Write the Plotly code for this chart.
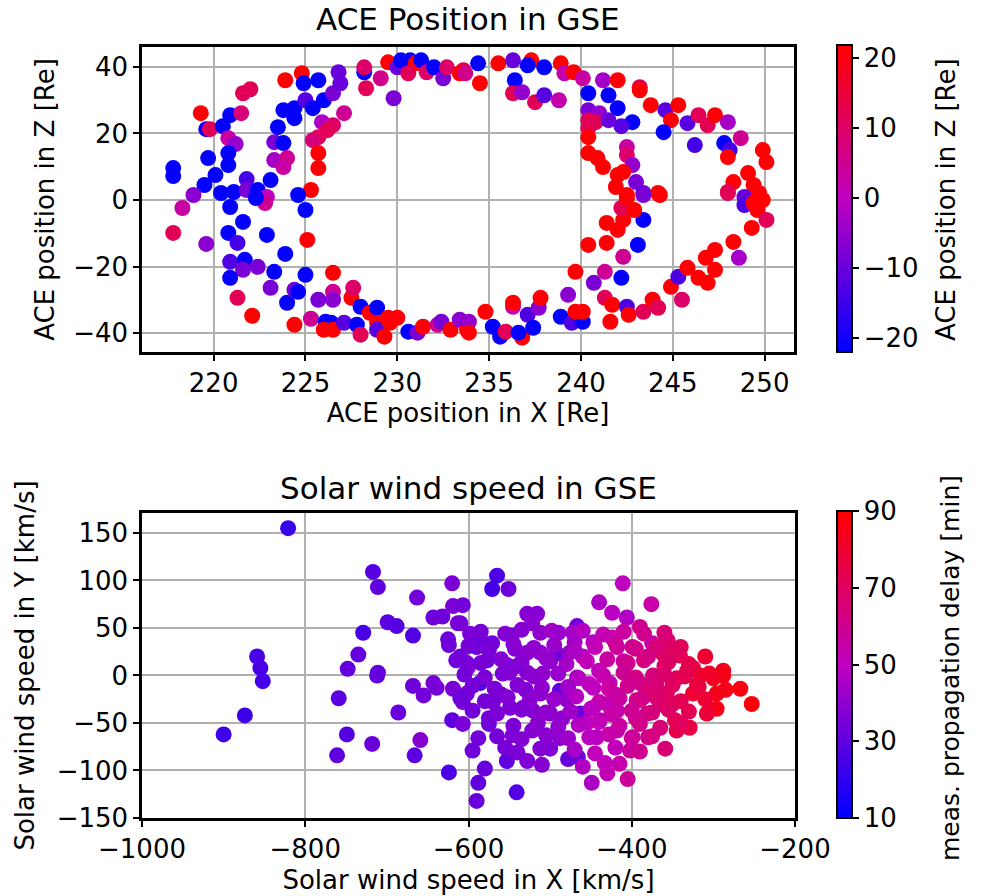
import plotly.graph_objects as go

# ---------------- Data: ACE position (top panel) ----------------
ace_x = [219.6, 219.3, 219.8, 220.9, 220.5, 221.5, 221.6, 222.0, 220.8, 221.2, 220.8, 219.7, 220.8, 217.8, 217.8,
         220.1, 219.5, 218.9, 220.4, 221.1, 221.8, 221.8, 222.4, 223.1, 222.9, 223.3, 223.8, 223.3, 224.0, 223.8,
         223.5, 223.8, 224.4, 224.4, 223.9, 224.8, 224.9, 225.7, 225.0, 226.0, 225.4, 225.9, 226.5, 227.1, 225.7,
         226.2, 225.4, 225.7, 225.7, 225.3, 224.6, 226.5, 226.9, 226.8, 228.3, 228.2, 228.2, 229.1, 229.8, 229.5,
         230.0, 230.2, 230.7, 231.0, 230.6, 231.3, 231.6, 232.0, 232.5, 232.7, 233.6, 233.4,
         233.7, 234.4, 234.5, 235.5, 236.3, 236.4, 236.3, 236.8, 237.3, 237.1, 238.0, 237.5, 238.0, 238.8, 238.9,
         239.1, 239.6, 240.1, 240.4, 241.2, 242.0, 241.5, 242.0, 240.4, 241.0, 240.4, 240.8, 241.5, 242.8, 242.2,
         243.2, 243.2, 243.8, 244.6, 245.3, 244.9, 244.5, 245.8, 246.4, 246.9, 247.3, 248.0, 248.7, 246.2, 247.8,
         248.1, 248.0, 249.9, 250.1, 249.1, 248.3, 249.4, 248.0, 249.7, 248.9, 240.4, 240.4, 240.4, 240.9, 241.2,
         242.5, 242.5, 242.8, 242.3, 242.0, 243.0, 241.9, 243.4, 244.2, 242.5,
         218.3, 217.8, 219.6, 220.9, 221.6, 220.8, 221.3, 220.9, 221.7, 221.6, 222.4, 220.9, 221.3, 222.1, 222.9,
         222.8, 222.3, 223.9, 223.3, 223.1, 224.0, 224.4, 224.6, 224.4, 225.1, 225.0, 225.0, 225.3, 225.7, 226.5,
         226.5, 226.5, 226.1, 226.4, 226.0, 226.5, 227.1, 227.5, 227.6, 228.0, 227.8, 228.0, 228.5, 228.9, 228.9,
         228.9, 229.5, 229.3, 229.6, 230.0, 230.6, 231.1, 231.4, 232.2, 232.4, 232.9, 233.4, 233.8,
         233.9, 233.9, 234.8, 235.2, 235.6, 235.9, 236.3, 236.3, 236.8, 236.6, 237.1, 237.4, 237.7, 237.8, 238.9,
         239.3, 239.5, 240.1, 239.7, 240.1, 239.7, 240.4, 241.4, 241.4, 240.7, 241.3, 241.3, 241.7, 241.6, 242.2,
         242.3, 242.5, 242.6, 243.1, 243.4, 243.4, 242.0, 242.3, 242.2, 242.5, 242.9, 243.4, 243.9, 244.2, 244.3,
         244.9, 245.3, 245.5, 245.8, 246.4, 246.9, 247.3, 246.8, 247.3, 248.3, 248.6, 249.3, 249.6, 250.1, 248.9,
         249.4, 249.9, 248.0]
ace_z = [21.3, 26.1, 21.3, 25.5, 22.2, 26.1, 32.1, 33.3, 18.6, 16.8, 14.1, 12.6, 10.5, 9.6, 7.2,
         7.5, 4.5, 1.5, 2.1, 2.4, 6.3, 3.0, 3.0, 6.0, 0.9, 17.4, 17.1, 12.0, 12.6, 9.9,
         21.9, 27.0, 27.6, 24.6, 36.0, 38.1, 35.1, 36.0, 30.0, 30.0, 27.6, 23.4, 22.5, 26.1, 18.9,
         21.0, 18.0, 14.1, 9.6, 3.0, 1.5, 32.1, 35.1, 38.4, 33.6, 38.4, 39.9, 36.6, 30.6, 41.4,
         39.9, 42.0, 42.0, 41.1, 38.1, 42.0, 38.4, 39.9, 36.6, 39.9, 39.0, 38.1,
         38.1, 41.1, 35.1, 41.1, 42.0, 36.0, 32.1, 32.4, 42.0, 40.5, 39.9, 29.4, 31.5, 30.0, 41.1,
         38.1, 38.4, 36.6, 32.1, 36.0, 36.0, 31.5, 27.6, 27.0, 26.1, 24.0, 23.4, 24.0, 23.4, 22.2,
         33.9, 33.0, 28.5, 27.0, 28.5, 24.0, 20.4, 23.1, 25.5, 22.5, 25.5, 23.4, 18.6, 16.5, 17.1,
         15.0, 12.9, 15.0, 11.4, 8.1, 5.4, 4.5, 2.4, 2.1, 0.9, 21.6, 18.9, 14.1, 12.6, 9.9,
         15.9, 13.5, 10.5, 8.4, 7.5, 5.4, 3.9, 2.1, 2.1, 1.5,
         -2.4, -9.9, -13.2, -2.1, -6.6, -9.9, -12.9, -18.6, -18.0, -21.0, -20.1, -23.4, -29.4, -34.8, -10.5,
         -0.9, 0.6, -16.2, -21.6, -26.4, -30.9, -27.0, -27.6, -37.5, -12.0, -22.5, -3.0, -35.7, -30.0, -21.9,
         -27.6, -30.0, -36.6, -36.9, -39.0, -39.0, -36.9, -29.4, -26.4, -32.1, -37.5, -40.5, -33.9, -32.4, -36.9,
         -39.0, -35.4, -41.1, -36.9, -35.4, -39.6, -39.9, -38.1, -37.5, -36.6, -39.0, -36.0, -39.0,
         -36.6, -39.9, -33.6, -38.1, -41.1, -39.6, -32.1, -30.9, -41.4, -39.9, -34.5, -38.4, -32.4, -29.4, -35.1,
         -28.5, -36.9, -36.6, -33.6, -33.6, -21.6, -13.5, -12.9, -6.9, -24.9, -21.6, -29.4, -31.5, -36.6, -23.4,
         -17.1, -32.1, -34.5, -13.5, -33.6, -6.0, -9.0, -6.0, -2.4, 0.6, -3.0, 1.5, -30.0, -32.4, 1.5,
         -26.1, -23.1, -30.0, -20.4, -23.4, -24.9, -21.0, -17.4, -15.0, -12.6, -17.4, -8.4, -3.0, -6.0, -1.5,
         -0.9, 0.0, 2.1]
ace_color = [-21.5, 21.5, 12, -21.5, -21.5, 8, 12, 12, 3, -5, -21.5, -21.5, -21.5, -21.5, -21.5,
             -21.5, -21.5, -6, -21.5, -21.5, -14, -8, -21.5, -21.5, 0, -8, -21.5, -3, 5, 3,
             -21.5, -21.5, -21.5, -21.5, 21.5, 21.5, -21.5, -21.5, -12, -21.5, -21.5, -2, 10, 5, 12,
             12, 8, 21.5, 21.5, 21.5, -21.5, -8, -10, -10, 12, -21.5, 10, 6, -8, 21.5,
             -10, -21.5, -21.5, 21.5, 12, -21.5, 10, -21.5, -8, 10, 12, 21.5,
             6, -21.5, 21.5, 21.5, -10, -21.5, 12, -5, 21.5, -21.5, -21.5, 12, -12, 2, 21.5,
             2, 21.5, 3, -21.5, -3, 21.5, -21.5, -21.5, -8, -5, 12, 12, -10, -21.5, -12,
             12, 21.5, 21.5, -12, 21.5, 21.5, -21.5, -12, 12, 12, 21.5, -3, 5, -14, -21.5,
             -14, 21.5, 21.5, 21.5, 21.5, 21.5, 21.5, 12, 21.5, -10, 12, 21.5, 21.5, 21.5, 21.5,
             3, 10, -5, 21.5, 21.5, -8, 21.5, -10, 21.5, 21.5,
             3, 12, -6, -21.5, -21.5, -21.5, -14, -13, -21.5, -8, -8, -21.5, 12, 21.5, -21.5,
             5, -21.5, -21.5, -21.5, -8, -21.5, -8, -21.5, 21.5, 21.5, -21.5, -21.5, 5, -8, 21.5,
             5, -6, -21.5, -21.5, 21.5, 21.5, -12, 21.5, 10, -21.5, -21.5, 12, 21.5, -21.5, 21.5,
             -12, 21.5, 21.5, 21.5, 21.5, -21.5, -8, 21.5, 5, -8, 21.5, -6, 21.5,
             -5, 21.5, 21.5, -21.5, -21.5, 12, 3, 21.5, 21.5, -21.5, -13, -21.5, -6, 21.5, -21.5,
             -6, -13, -21.5, 21.5, 21.5, 21.5, 21.5, 21.5, 21.5, -8, 5, 12, 21.5, 21.5, -21.5,
             5, -13, 21.5, -21.5, 12, -21.5, 21.5, 21.5, 12, 21.5, 21.5, -8, 21.5, 12, 21.5,
             21.5, -13, 10, 21.5, 21.5, 21.5, 21.5, 21.5, 21.5, 21.5, -3, 21.5, 21.5, 12, -13,
             21.5, 21.5, 12]

# ---------------- Data: solar wind speed (bottom panel) ----------------
sw_vx = [-821, -717, -711, -620, -663, -619, -643, -632, -613, -699, -688, -729, -668, -625, -624,
         -859, -855, -735, -748, -711, -852, -874, -900, -712, -759, -749, -761, -718, -686, -668,
         -655, -643, -639, -619, -659, -666, -620, -624, -607, -607, -601,
         -565, -571, -551, -411, -440, -424, -406, -376, -390, -528, -516, -522, -512, -498, -467,
         -472, -607, -610, -598, -586, -571, -547, -543, -528, -512, -492, -476, -447, -424, -418,
         -399, -375, -356, -362, -341, -325, -288, -577, -602, -553,
         -288, -300, -267, -253, -296, -325, -296, -316, -308, -329, -345, -347, -359, -380, -402,
         -405, -430, -433, -449, -420, -466, -478, -500, -512, -528, -553, -541, -580, -588, -590,
         -555, -546, -522, -488, -588, -586, -602, -488, -463, -521, -549, -570, -447, -439, -418,
         -399, -381, -365, -357, -394, -418, -467, -447, -427, -390, -374, -345, -332, -509, -528,
         -558, -512, -533, -485, -443, -386,
         -590, -560, -540, -500, -480, -460, -440, -420, -410, -380, -370, -360, -350, -395, -455,
         -430, -500, -530, -575, -610, -470, -340, -310, -320,
         # dense core
         -600, -575, -545, -520, -495, -470, -445, -420, -395, -370, -345,
         -615, -585, -560, -535, -505, -480, -455, -430, -405, -385, -355, -330,
         -605, -580, -550, -520, -490, -465, -435, -410, -395, -360, -335, -305,
         -595, -568, -540, -510, -478, -452, -428, -405, -380, -350, -318, -285,
         -610, -580, -552, -525, -495, -468, -440, -415, -390, -370, -340, -310,
         -595, -565, -535, -505, -475, -450, -425, -400, -375, -355, -330,
         -575, -545, -515, -490, -465, -440, -415, -390, -365, -340,
         -565, -535, -505, -478, -452, -428, -400, -375,
         -595, -540, -470, -445, -390,
         -585, -555, -535, -490, -460, -435, -410, -385, -360,
         -510, -460, -415]
sw_vy = [155, 109, 93, 97, 82, 73, 61, 62, 55, 56, 52, 45, 42, 38, 32,
         20, 8, 22, 7, 3, -6, -42, -62, 0, -24, -62, -84, -72, -39, -11,
         -21, -8, -13, -14, -68, -84, -47, -102, -28, -51, 8,
         105, 91, 91, 97, 77, 66, 61, 75, 51, 65, 65, 55, 45, 47, 52,
         45, 74, 55, 44, 40, 34, 42, 28, 24, 24, 23, 24, 35, 40, 30,
         30, 34, 37, 23, 21, 8, 5, 16, 13, 11,
         0, -3, -14, -30, -19, -19, -35, 0, -40, -55, -58, -47, -77, -65, -79,
         -109, -103, -92, -113, -76, -86, -88, -77, -77, -90, -90, -123, -98, -113, -132,
         -76, -63, -58, -66, -66, -8, -19, -16, -40, -37, -34, -28, -34, -47, -58,
         -65, -40, -30, -19, -26, -37, -2, -13, -8, -8, 0, -3, 5, 2, 3,
         2, -19, -34, -45, -65, -23,
         30, -20, 10, 15, -25, 20, 5, -20, 15, 20, -10, 10, -30, -45, -50,
         -30, -40, -15, -45, 20, 35, 30, 20, -10,
         # dense core
         31, 27, 33, 29, 32, 26, 30, 34, 28, 31, 27,
         16, 13, 17, 14, 18, 12, 15, 17, 13, 16, 14, 12,
         1, -2, 3, -1, 2, -3, 0, 3, -2, 1, -1, 2,
         -11, -14, -10, -13, -12, -9, -14, -11, -13, -10, -12, -15,
         -24, -27, -23, -26, -25, -22, -28, -24, -26, -23, -27, -25,
         -37, -40, -36, -39, -38, -35, -41, -37, -39, -36, -38,
         -51, -53, -50, -54, -52, -49, -53, -51, -55, -50,
         -64, -67, -63, -66, -65, -62, -66, -64,
         -79, -81, -78, -82, -80,
         46, 44, 48, 45, 47, 43, 46, 44, 45,
         -94, -96, -93]
sw_delay = [22, 28, 30, 36, 34, 36, 33, 33, 36, 29, 28, 25, 27, 33, 33,
            25, 25, 31, 31, 31, 24, 23, 23, 31, 29, 28, 30, 32, 32, 33,
            34, 35, 35, 36, 38, 29, 30, 26, 36, 36, 40,
            26, 25, 33, 50, 46, 49, 47, 55, 60, 38, 38, 39, 40, 44, 34,
            45, 34, 35, 36, 34, 33, 36, 38, 40, 40, 33, 42, 48, 54, 56,
            59, 52, 68, 70, 72, 76, 84, 34, 36, 37,
            85, 84, 87, 88, 85, 80, 85, 80, 78, 76, 74, 74, 66, 60, 57,
            58, 52, 51, 46, 51, 32, 32, 37, 37, 37, 30, 27, 32, 30, 32,
            35, 37, 38, 40, 34, 27, 34, 30, 32, 38, 36, 36, 51, 49, 52,
            57, 62, 68, 70, 59, 54, 44, 50, 53, 59, 64, 72, 74, 40, 38,
            36, 40, 38, 40, 49, 62,
            33, 34, 36, 39, 40, 49, 51, 55, 57, 61, 65, 68, 70, 59, 50,
            52, 40, 37, 34, 34, 44, 72, 80, 78,
            # dense core
            35, 35, 38, 40, 42, 46, 52, 58, 61, 65, 70,
            34, 35, 37, 38, 41, 45, 52, 56, 60, 63, 69, 74,
            34, 36, 37, 39, 42, 48, 54, 59, 62, 68, 73, 81,
            34, 36, 37, 40, 44, 50, 56, 60, 65, 70, 77, 85,
            33, 35, 37, 39, 42, 48, 54, 57, 62, 67, 72, 79,
            34, 36, 37, 40, 43, 49, 55, 59, 64, 69, 73,
            34, 36, 39, 41, 48, 52, 56, 61, 65, 71,
            35, 37, 39, 43, 49, 54, 58, 63,
            33, 36, 45, 51, 60,
            35, 37, 38, 42, 48, 53, 56, 60, 65,
            38, 47, 54]

ace_x_ticks = [220, 225, 230, 235, 240, 245, 250]
ace_z_ticks = [-40, -20, 0, 20, 40]
ace_cbar_ticks = [-20, -10, 0, 10, 20]
sw_x_ticks = [-1000, -800, -600, -400, -200]
sw_y_ticks = [-150, -100, -50, 0, 50, 100, 150]
sw_cbar_ticks = [10, 30, 50, 70, 90]

# ---------------- Styling ----------------
W, H = 981, 896
FONT = "DejaVu Sans"
FS = 26
TFS = 31
MS = 16
cscale = [[0.0, "rgb(0,0,255)"], [0.5, "rgb(191,0,191)"], [1.0, "rgb(255,0,0)"]]


def px_x(p):
    return p / W


def px_y(p):
    return 1 - p / H


def cbar(top_px, ticks):
    return dict(x=px_x(837), xanchor="left", xpad=0, ypad=0,
                y=px_y(top_px), yanchor="top", len=307 / H, lenmode="fraction",
                thickness=15, outlinewidth=2, outlinecolor="black",
                ticks="outside", ticklen=6, tickwidth=1.5, tickcolor="black",
                tickvals=ticks, tickfont=dict(family=FONT, size=FS, color="black"))


fig = go.Figure()

fig.add_trace(go.Scatter(
    x=ace_x, y=ace_z, mode="markers", xaxis="x", yaxis="y", showlegend=False,
    marker=dict(size=MS, color=ace_color, colorscale=cscale, cmin=-22, cmax=21.9,
                line=dict(width=0), colorbar=cbar(45, ace_cbar_ticks))))

fig.add_trace(go.Scatter(
    x=sw_vx, y=sw_vy, mode="markers", xaxis="x2", yaxis="y2", showlegend=False,
    marker=dict(size=MS, color=sw_delay, colorscale=cscale, cmin=10, cmax=90,
                line=dict(width=0), colorbar=cbar(511, sw_cbar_ticks))))

axis_common = dict(showgrid=True, gridcolor="#b0b0b0", gridwidth=2, showline=True,
                   linecolor="black", linewidth=2.5, mirror=True, ticks="outside", ticklen=6,
                   tickwidth=2, tickcolor="black", zeroline=False, automargin=False,
                   tickfont=dict(family=FONT, size=FS, color="black"))

title_font = dict(family=FONT, size=FS, color="black")

fig.update_layout(
    width=W, height=H, margin=dict(l=0, r=0, t=0, b=0, autoexpand=False),
    paper_bgcolor="white", plot_bgcolor="white",
    font=dict(family=FONT, size=FS, color="black"),
    xaxis=dict(domain=[px_x(142), px_x(794)], range=[216.1, 251.6], tickvals=ace_x_ticks,
               anchor="y", title=dict(text="ACE position in X [Re]", standoff=6, font=title_font),
               **axis_common),
    yaxis=dict(domain=[px_y(352), px_y(47)], range=[-45.7, 46], tickvals=ace_z_ticks,
               anchor="x", title=dict(text="ACE position in Z [Re]", standoff=12, font=title_font),
               **axis_common),
    xaxis2=dict(domain=[px_x(142), px_x(795)], range=[-1000, -200], tickvals=sw_x_ticks,
                anchor="y2", title=dict(text="Solar wind speed in X [km/s]", standoff=8, font=title_font),
                **axis_common),
    yaxis2=dict(domain=[px_y(818), px_y(513)], range=[-150, 171], tickvals=sw_y_ticks,
                anchor="x2", title=dict(text="Solar wind speed in Y [km/s]", standoff=15, font=title_font),
                **axis_common),
    annotations=[
        dict(text="ACE Position in GSE", x=px_x(468), y=px_y(19), xref="paper", yref="paper",
             xanchor="center", yanchor="middle", showarrow=False,
             font=dict(family=FONT, size=TFS, color="black")),
        dict(text="Solar wind speed in GSE", x=px_x(468), y=px_y(488), xref="paper", yref="paper",
             xanchor="center", yanchor="middle", showarrow=False,
             font=dict(family=FONT, size=TFS, color="black")),
        dict(text="ACE position in Z [Re]", x=px_x(946), y=px_y(200), xref="paper", yref="paper",
             xanchor="center", yanchor="middle", showarrow=False, textangle=-90,
             font=dict(family=FONT, size=FS, color="black")),
        dict(text="meas. propagation delay [min]", x=px_x(950), y=px_y(668), xref="paper", yref="paper",
             xanchor="center", yanchor="middle", showarrow=False, textangle=-90,
             font=dict(family=FONT, size=25, color="black")),
    ],
)

fig.write_html("out.html", config={"displayModeBar": False},
               post_script="document.body.style.margin='0px';")
